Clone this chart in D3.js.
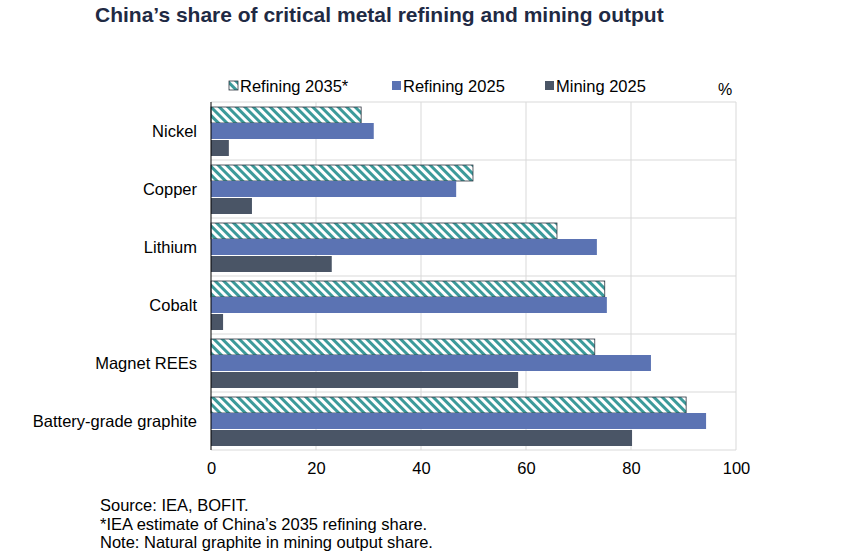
<!DOCTYPE html><html><head><meta charset="utf-8"><script src="https://cdn.jsdelivr.net/npm/d3@7"></script>
<style>body{margin:0;background:#fff}text{font-family:Arial,"Liberation Sans",sans-serif}</style></head><body>
<svg id="c" width="861" height="556"></svg>
<script>
const categories=["Nickel","Copper","Lithium","Cobalt","Magnet REEs","Battery-grade graphite"];
const refining2035=[28.6,49.9,65.9,75,73.1,90.5];
const refining2025=[31,46.7,73.5,75.4,83.8,94.3];
const mining2025=[3.4,7.8,23,2.3,58.5,80.2];
const seriesNames=["Refining 2035*","Refining 2025","Mining 2025"];
const xTicks=[0,20,40,60,80,100];
const svg=d3.select("#c");
const defs=svg.append("defs");
const pat=defs.append("pattern").attr("id","h").attr("patternUnits","userSpaceOnUse").attr("width",6).attr("height",6).attr("patternTransform","rotate(-45)");
pat.append("rect").attr("width",6).attr("height",6).attr("fill","#fff");
pat.append("rect").attr("width",3).attr("height",6).attr("fill","#3c9a9a");
const fills=["url(#h)","#5b73b3","#4a5566"];
const x=d3.scaleLinear().domain([0,100]).range([211,736]);
const y=d3.scaleBand().domain(categories).range([102,450]);
svg.append("text").attr("x",95).attr("y",22).attr("font-size",21).attr("font-weight","bold").attr("fill","#1f2a44").text("China’s share of critical metal refining and mining output");
const g=svg.append("g");
g.selectAll(".gx").data(xTicks.slice(1)).join("line").attr("x1",d=>x(d)).attr("x2",d=>x(d)).attr("y1",102).attr("y2",450).attr("stroke","#d9d9d9");
g.selectAll(".gy").data(categories).join("line").attr("x1",211).attr("x2",736).attr("y1",d=>y(d)).attr("y2",d=>y(d)).attr("stroke","#d9d9d9");
g.append("line").attr("x1",211).attr("x2",736).attr("y1",450).attr("y2",450).attr("stroke","#d9d9d9");
const data=[refining2035,refining2025,mining2025];
const bh=16, offs=[5,21,38];
data.forEach((arr,i)=>{
 g.selectAll(".b"+i).data(arr).join("rect").attr("x",x(0)).attr("y",(d,j)=>y(categories[j])+offs[i]).attr("width",d=>x(d)-x(0)).attr("height",bh).attr("fill",fills[i]).attr("stroke",i==0?"#2f3640":"none").attr("stroke-width",0.8);
});
g.append("line").attr("x1",211).attr("x2",211).attr("y1",102).attr("y2",450).attr("stroke","#000");
const ax=svg.append("g").attr("transform","translate(0,450)").call(d3.axisBottom(x).tickValues(xTicks).tickSize(0).tickPadding(12));
ax.select(".domain").remove();ax.selectAll("text").attr("font-size",16.5).attr("fill","#000").style("font-family","Arial, Liberation Sans");
svg.selectAll(".cl").data(categories).join("text").attr("x",197).attr("y",d=>y(d)+y.bandwidth()/2+6).attr("text-anchor","end").attr("font-size",16.5).text(d=>d);
const lx=[229,392,545];
seriesNames.forEach((n,i)=>{
 svg.append("rect").attr("x",lx[i]).attr("y",81).attr("width",9).attr("height",9).attr("fill",fills[i]).attr("stroke",i==0?"#2f3640":"none").attr("stroke-width",0.8);
 svg.append("text").attr("x",lx[i]+11).attr("y",92).attr("font-size",16.5).text(n);
});
svg.append("text").attr("x",718).attr("y",95).attr("font-size",16).text("%");
["Source: IEA, BOFIT.","*IEA estimate of China’s 2035 refining share.","Note: Natural graphite in mining output share."].forEach((t,i)=>svg.append("text").attr("x",100).attr("y",511+i*18.5).attr("font-size",16.5).text(t));
</script></body></html>
